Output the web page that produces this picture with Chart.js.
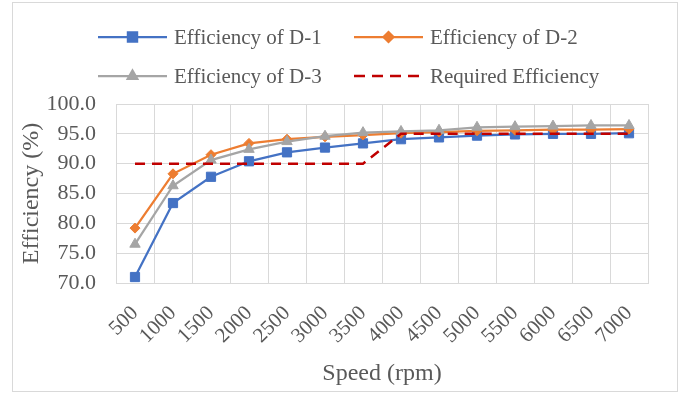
<!DOCTYPE html>
<html>
<head>
<meta charset="utf-8">
<script src="https://cdn.jsdelivr.net/npm/chart.js@4.4.1/dist/chart.umd.min.js"></script>
<style>
  html, body { margin: 0; padding: 0; background: #fff; }
  #wrap { width: 683px; height: 394px; position: relative; }
</style>
</head>
<body>
<div id="wrap"><canvas id="c" width="683" height="394"></canvas></div>
<script>
const speeds = ['500','1000','1500','2000','2500','3000','3500','4000','4500','5000','5500','6000','6500','7000'];
const effD1 = [71.0, 83.4, 87.8, 90.4, 91.9, 92.7, 93.4, 94.1, 94.4, 94.7, 94.9, 95.0, 95.0, 95.1];
const effD2 = [79.2, 88.3, 91.5, 93.4, 94.1, 94.5, 94.8, 95.1, 95.3, 95.5, 95.6, 95.7, 95.7, 95.8];
const effD3 = [76.5, 86.3, 90.6, 92.4, 93.7, 94.6, 95.2, 95.4, 95.6, 96.1, 96.2, 96.3, 96.4, 96.4];
const required = [90, 90, 90, 90, 90, 90, 90, 95, 95, 95, 95, 95, 95, 95];
const yTicks = [70, 75, 80, 85, 90, 95, 100];
const seriesNames = ['Efficiency of D-1', 'Efficiency of D-2', 'Efficiency of D-3', 'Required Efficiency'];

const BLUE = '#4472C4', ORANGE = '#ED7D31', GRAY = '#A5A5A5', RED = '#C00000';
const TXT = '#595959', GRID = '#D9D9D9';
const FONT = "'Liberation Serif', 'Times New Roman', serif";

const frame = {
  id: 'frame',
  beforeDraw(chart) {
    const ctx = chart.ctx;
    ctx.save();
    ctx.fillStyle = '#fff';
    ctx.fillRect(0, 0, chart.width, chart.height);
    ctx.strokeStyle = GRID;
    ctx.lineWidth = 1;
    ctx.strokeRect(12.5, 2.5, 665, 389);
    ctx.restore();
  }
};

const legendItems = [
  { x: 98, y: 37, w: 69, color: BLUE, style: 'rect', r: 6.5, dash: [] },
  { x: 354, y: 37, w: 69, color: ORANGE, style: 'rectRot', r: 5, dash: [] },
  { x: 98, y: 76, w: 69, color: GRAY, style: 'triangle', r: 5.5, dash: [] },
  { x: 354, y: 76, w: 69, color: RED, style: null, r: 0, dash: [11, 7] }
];

const customLegend = {
  id: 'customLegend',
  afterDraw(chart) {
    const ctx = chart.ctx;
    ctx.save();
    legendItems.forEach((it, i) => {
      ctx.strokeStyle = it.color;
      ctx.lineWidth = it.style ? 2.25 : 2.5;
      ctx.setLineDash(it.dash);
      ctx.beginPath();
      ctx.moveTo(it.x, it.y);
      ctx.lineTo(it.x + it.w, it.y);
      ctx.stroke();
      ctx.setLineDash([]);
      if (it.style) {
        ctx.fillStyle = it.color;
        Chart.helpers.drawPoint(ctx, { pointStyle: it.style, radius: it.r, rotation: 0, borderWidth: 1 }, it.x + it.w / 2, it.y);
        ctx.fill();
      }
      ctx.fillStyle = TXT;
      ctx.font = "21px " + FONT;
      ctx.textBaseline = 'middle';
      ctx.textAlign = 'left';
      ctx.fillText(seriesNames[i], it.x + it.w + 7, it.y + 1);
    });
    ctx.restore();
  }
};

const common = { borderWidth: 2.25, tension: 0, fill: false };

new Chart(document.getElementById('c'), {
  type: 'line',
  data: {
    labels: speeds,
    datasets: [
      { ...common, label: seriesNames[0], data: effD1, borderColor: BLUE, backgroundColor: BLUE,
        pointStyle: 'rect', pointRadius: 6.5, pointBorderWidth: 1, order: 3 },
      { ...common, label: seriesNames[1], data: effD2, borderColor: ORANGE, backgroundColor: ORANGE,
        pointStyle: 'rectRot', pointRadius: 5, pointBorderWidth: 1, order: 2 },
      { ...common, label: seriesNames[2], data: effD3, borderColor: GRAY, backgroundColor: GRAY,
        pointStyle: 'triangle', pointRadius: 6, pointBorderWidth: 1, order: 1 },
      { ...common, label: seriesNames[3], data: required, borderColor: RED, backgroundColor: RED,
        borderWidth: 2.5, borderDash: [10, 7], pointRadius: 0, order: 0 }
    ]
  },
  options: {
    responsive: false,
    animation: false,
    devicePixelRatio: 1,
    layout: { padding: { left: 12, top: 104, right: 35, bottom: 0 } },
    plugins: { legend: { display: false }, tooltip: { enabled: false } },
    scales: {
      x: {
        offset: true,
        grid: { color: GRID, lineWidth: 1, offset: true, drawTicks: false },
        border: { color: GRID },
        ticks: { color: TXT, font: { family: FONT, size: 21 }, minRotation: 45, maxRotation: 45, padding: 18, autoSkip: false },
        title: { display: true, text: 'Speed (rpm)', color: TXT, font: { family: FONT, size: 24 }, padding: { top: 0, bottom: 6 } },
        afterFit(scale) { scale.height = 111; }
      },
      y: {
        min: yTicks[0],
        max: yTicks[yTicks.length - 1],
        afterBuildTicks(scale) { scale.ticks = yTicks.map(v => ({ value: v })); },
        grid: { color: GRID, lineWidth: 1, drawTicks: false },
        border: { color: GRID },
        ticks: { color: TXT, font: { family: FONT, size: 22 }, padding: 20, callback: v => Number(v).toFixed(1) },
        title: { display: true, text: 'Efficiency (%)', color: TXT, font: { family: FONT, size: 24 }, padding: { top: 5, bottom: 0 } },
        afterFit(scale) { scale.width = 104; }
      }
    }
  },
  plugins: [frame, customLegend]
});
</script>
</body>
</html>
